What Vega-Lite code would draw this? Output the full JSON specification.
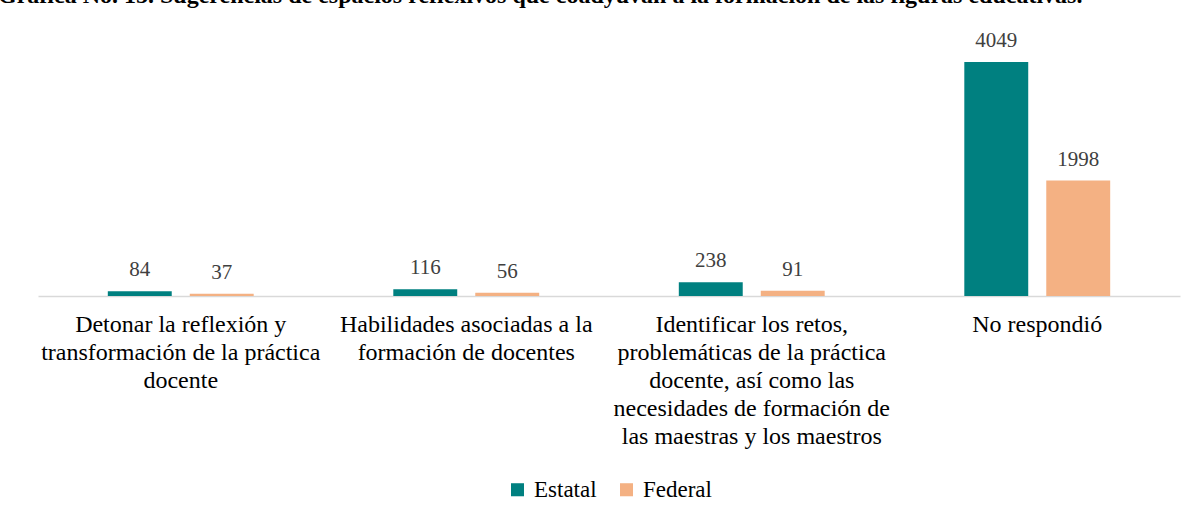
{
  "$schema": "https://vega.github.io/schema/vega-lite/v6.json",
  "autosize": {"type": "none"},
  "width": 1142,
  "height": 266,
  "padding": {"left": 38, "top": 30, "right": 23, "bottom": 224},
  "background": "white",
  "title": {
    "text": "Gráfica No. 15. Sugerencias de espacios reflexivos que coadyuvan a la formación de las figuras educativas.",
    "anchor": "start",
    "frame": "group",
    "dx": -40,
    "offset": 22,
    "font": "Liberation Serif",
    "fontSize": 24,
    "fontWeight": "bold",
    "color": "#000000"
  },
  "data": {
    "values": [
      {"categoria": "Detonar la reflexión y transformación de la práctica docente", "tipo": "Estatal", "valor": 84},
      {"categoria": "Detonar la reflexión y transformación de la práctica docente", "tipo": "Federal", "valor": 37},
      {"categoria": "Habilidades asociadas a la formación de docentes", "tipo": "Estatal", "valor": 116},
      {"categoria": "Habilidades asociadas a la formación de docentes", "tipo": "Federal", "valor": 56},
      {"categoria": "Identificar los retos, problemáticas de la práctica docente, así como las necesidades de formación de las maestras y los maestros", "tipo": "Estatal", "valor": 238},
      {"categoria": "Identificar los retos, problemáticas de la práctica docente, así como las necesidades de formación de las maestras y los maestros", "tipo": "Federal", "valor": 91},
      {"categoria": "No respondió", "tipo": "Estatal", "valor": 4049},
      {"categoria": "No respondió", "tipo": "Federal", "valor": 1998}
    ]
  },
  "encoding": {
    "x": {
      "field": "categoria",
      "type": "nominal",
      "sort": null,
      "title": null,
      "scale": {"paddingInner": 0.489, "paddingOuter": 0.2445},
      "axis": {
        "labelAngle": 0,
        "domain": true,
        "domainColor": "#d9d9d9",
        "domainWidth": 1.5,
        "ticks": false,
        "labelPadding": 16,
        "labelFont": "Liberation Serif",
        "labelFontSize": 24,
        "labelColor": "#000000",
        "labelLineHeight": 28,
        "labelLimit": 0,
        "labelExpr": "indexof(datum.value, 'Detonar') == 0 ? ['Detonar la reflexión y', 'transformación de la práctica', 'docente'] : indexof(datum.value, 'Habilidades') == 0 ? ['Habilidades asociadas a la', 'formación de docentes'] : indexof(datum.value, 'Identificar') == 0 ? ['Identificar los retos,', 'problemáticas de la práctica', 'docente, así como las', 'necesidades de formación de', 'las maestras y los maestros'] : datum.value"
      }
    },
    "xOffset": {
      "field": "tipo",
      "type": "nominal",
      "sort": ["Estatal", "Federal"],
      "scale": {"paddingInner": 0.22, "paddingOuter": 0}
    },
    "y": {
      "field": "valor",
      "type": "quantitative",
      "scale": {"domain": [0, 4603], "nice": false},
      "axis": null
    }
  },
  "layer": [
    {
      "mark": {"type": "bar"},
      "encoding": {
        "color": {
          "field": "tipo",
          "type": "nominal",
          "sort": ["Estatal", "Federal"],
          "scale": {"domain": ["Estatal", "Federal"], "range": ["#008080", "#F4B183"]},
          "legend": {
            "title": null,
            "orient": "bottom",
            "direction": "horizontal",
            "symbolType": "square",
            "symbolSize": 170,
            "symbolStrokeWidth": 0,
            "labelFont": "Liberation Serif",
            "labelFontSize": 23,
            "labelColor": "#000000",
            "columnPadding": 18,
            "labelOffset": 5,
            "offset": 30
          }
        }
      }
    },
    {
      "mark": {
        "type": "text",
        "baseline": "bottom",
        "dy": -11,
        "font": "Liberation Serif",
        "fontSize": 21,
        "color": "#404040"
      },
      "encoding": {
        "text": {"field": "valor", "type": "quantitative", "format": "d"}
      }
    }
  ],
  "config": {
    "view": {"stroke": null},
    "legend": {"layout": {"bottom": {"anchor": "middle"}}}
  }
}
